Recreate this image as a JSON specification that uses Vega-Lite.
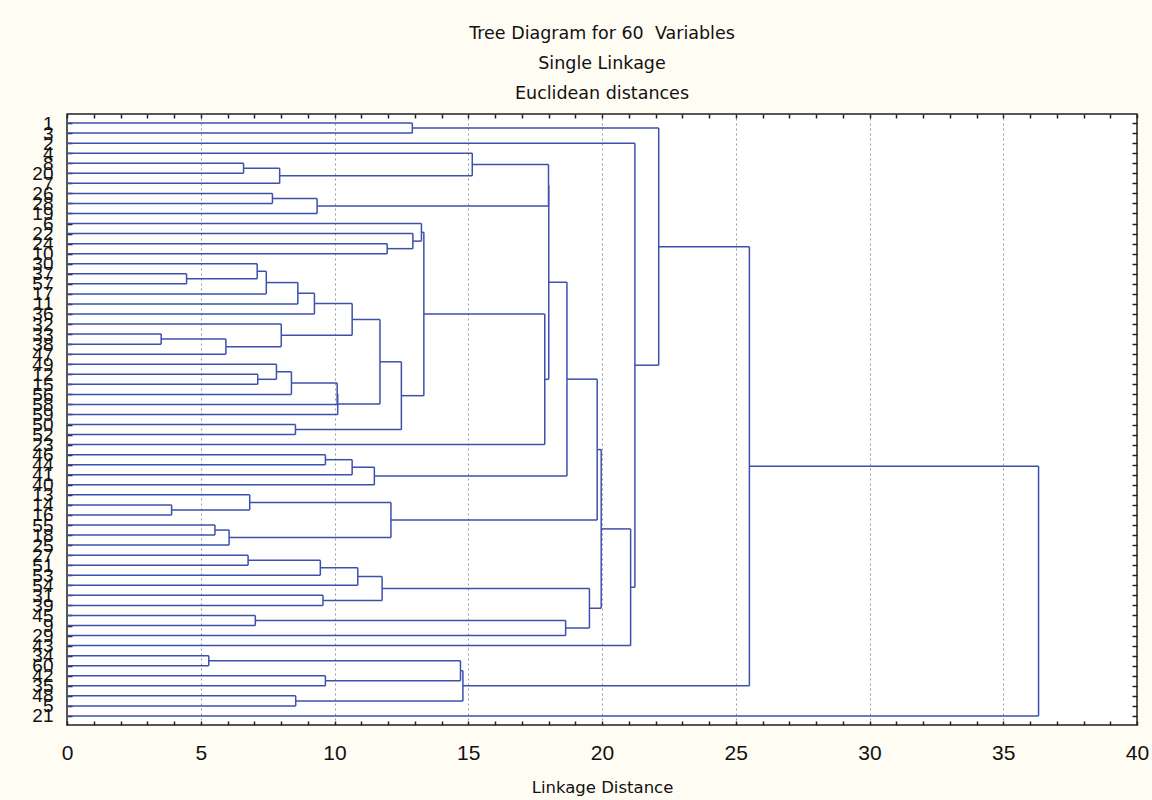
{
  "$schema": "https://vega.github.io/schema/vega-lite/v6.json",
  "description": "Tree diagram for 60 variables, single linkage, Euclidean distances",
  "width": 1070,
  "height": 611,
  "autosize": "none",
  "padding": {"left": 67, "top": 114, "right": 15, "bottom": 75},
  "background": "#fffcf4",
  "title": {
    "text": ["Tree Diagram for 60 \u00a0Variables", "Single Linkage", "Euclidean distances"],
    "font": "DejaVu Sans",
    "fontSize": 17.5,
    "fontWeight": "normal",
    "color": "#111",
    "lineHeight": 30,
    "anchor": "middle",
    "baseline": "bottom",
    "offset": -7
  },
  "datasets": {
    "h": [
      {"y": 1, "x": 0, "x2": 12.91}, {"y": 2, "x": 0, "x2": 12.91}, {"y": 3, "x": 0, "x2": 21.23},
      {"y": 4, "x": 0, "x2": 15.15}, {"y": 5, "x": 0, "x2": 6.6}, {"y": 6, "x": 0, "x2": 6.6},
      {"y": 7, "x": 0, "x2": 7.95}, {"y": 8, "x": 0, "x2": 7.68}, {"y": 9, "x": 0, "x2": 7.68},
      {"y": 10, "x": 0, "x2": 9.35}, {"y": 11, "x": 0, "x2": 13.25}, {"y": 12, "x": 0, "x2": 12.93},
      {"y": 13, "x": 0, "x2": 11.97}, {"y": 14, "x": 0, "x2": 11.97}, {"y": 15, "x": 0, "x2": 7.11},
      {"y": 16, "x": 0, "x2": 4.47}, {"y": 17, "x": 0, "x2": 4.47}, {"y": 18, "x": 0, "x2": 7.45},
      {"y": 19, "x": 0, "x2": 8.63}, {"y": 20, "x": 0, "x2": 9.25}, {"y": 21, "x": 0, "x2": 8.01},
      {"y": 22, "x": 0, "x2": 3.52}, {"y": 23, "x": 0, "x2": 3.52}, {"y": 24, "x": 0, "x2": 5.94},
      {"y": 25, "x": 0, "x2": 7.83}, {"y": 26, "x": 0, "x2": 7.13}, {"y": 27, "x": 0, "x2": 7.13},
      {"y": 28, "x": 0, "x2": 8.39}, {"y": 29, "x": 0, "x2": 10.10}, {"y": 30, "x": 0, "x2": 10.12},
      {"y": 31, "x": 0, "x2": 8.54}, {"y": 32, "x": 0, "x2": 8.54}, {"y": 33, "x": 0, "x2": 17.86},
      {"y": 34, "x": 0, "x2": 9.66}, {"y": 35, "x": 0, "x2": 9.66}, {"y": 36, "x": 0, "x2": 10.66},
      {"y": 37, "x": 0, "x2": 11.49}, {"y": 38, "x": 0, "x2": 6.83}, {"y": 39, "x": 0, "x2": 3.91},
      {"y": 40, "x": 0, "x2": 3.91}, {"y": 41, "x": 0, "x2": 5.53}, {"y": 42, "x": 0, "x2": 5.53},
      {"y": 43, "x": 0, "x2": 6.06}, {"y": 44, "x": 0, "x2": 6.77}, {"y": 45, "x": 0, "x2": 6.77},
      {"y": 46, "x": 0, "x2": 9.47}, {"y": 47, "x": 0, "x2": 10.87}, {"y": 48, "x": 0, "x2": 9.57},
      {"y": 49, "x": 0, "x2": 9.57}, {"y": 50, "x": 0, "x2": 7.04}, {"y": 51, "x": 0, "x2": 7.04},
      {"y": 52, "x": 0, "x2": 18.64}, {"y": 53, "x": 0, "x2": 21.07}, {"y": 54, "x": 0, "x2": 5.30},
      {"y": 55, "x": 0, "x2": 5.30}, {"y": 56, "x": 0, "x2": 9.66}, {"y": 57, "x": 0, "x2": 9.66},
      {"y": 58, "x": 0, "x2": 8.55}, {"y": 59, "x": 0, "x2": 8.55}, {"y": 60, "x": 0, "x2": 36.32},
      {"y": 1.5, "x": 12.91, "x2": 22.12}, {"y": 5.5, "x": 6.6, "x2": 7.95},
      {"y": 6.25, "x": 7.95, "x2": 15.15}, {"y": 5.125, "x": 15.15, "x2": 18.0},
      {"y": 8.5, "x": 7.68, "x2": 9.35}, {"y": 9.25, "x": 9.35, "x2": 18.0},
      {"y": 7.1875, "x": 18.0, "x2": 18.01}, {"y": 13.5, "x": 11.97, "x2": 12.93},
      {"y": 12.75, "x": 12.93, "x2": 13.25}, {"y": 11.875, "x": 13.25, "x2": 13.34},
      {"y": 16.5, "x": 4.47, "x2": 7.11}, {"y": 15.75, "x": 7.11, "x2": 7.45},
      {"y": 16.875, "x": 7.45, "x2": 8.63}, {"y": 17.9375, "x": 8.63, "x2": 9.25},
      {"y": 18.96875, "x": 9.25, "x2": 10.66}, {"y": 22.5, "x": 3.52, "x2": 5.94},
      {"y": 23.25, "x": 5.94, "x2": 8.01}, {"y": 22.125, "x": 8.01, "x2": 10.66},
      {"y": 20.546875, "x": 10.66, "x2": 11.70}, {"y": 26.5, "x": 7.13, "x2": 7.83},
      {"y": 25.75, "x": 7.83, "x2": 8.39}, {"y": 26.875, "x": 8.39, "x2": 10.10},
      {"y": 27.9375, "x": 10.10, "x2": 10.12}, {"y": 28.96875, "x": 10.12, "x2": 11.70},
      {"y": 24.7578, "x": 11.70, "x2": 12.50}, {"y": 31.5, "x": 8.54, "x2": 12.50},
      {"y": 28.1289, "x": 12.50, "x2": 13.34}, {"y": 20.002, "x": 13.34, "x2": 17.86},
      {"y": 26.501, "x": 17.86, "x2": 18.01}, {"y": 16.8442, "x": 18.01, "x2": 18.69},
      {"y": 34.5, "x": 9.66, "x2": 10.66}, {"y": 35.25, "x": 10.66, "x2": 11.49},
      {"y": 36.125, "x": 11.49, "x2": 18.69}, {"y": 26.4846, "x": 18.69, "x2": 19.82},
      {"y": 39.5, "x": 3.91, "x2": 6.83}, {"y": 38.75, "x": 6.83, "x2": 12.11},
      {"y": 41.5, "x": 5.53, "x2": 6.06}, {"y": 42.25, "x": 6.06, "x2": 12.11},
      {"y": 40.5, "x": 12.11, "x2": 19.82}, {"y": 33.4923, "x": 19.82, "x2": 19.97},
      {"y": 44.5, "x": 6.77, "x2": 9.47}, {"y": 45.25, "x": 9.47, "x2": 10.87},
      {"y": 46.125, "x": 10.87, "x2": 11.78}, {"y": 48.5, "x": 9.57, "x2": 11.78},
      {"y": 47.3125, "x": 11.78, "x2": 19.53}, {"y": 50.5, "x": 7.04, "x2": 18.64},
      {"y": 51.25, "x": 18.64, "x2": 19.53}, {"y": 49.2813, "x": 19.53, "x2": 19.97},
      {"y": 41.3868, "x": 19.97, "x2": 21.07}, {"y": 47.1934, "x": 21.07, "x2": 21.23},
      {"y": 25.0967, "x": 21.23, "x2": 22.12}, {"y": 13.2984, "x": 22.12, "x2": 25.51},
      {"y": 54.5, "x": 5.30, "x2": 14.71}, {"y": 56.5, "x": 9.66, "x2": 14.71},
      {"y": 55.5, "x": 14.71, "x2": 14.80}, {"y": 58.5, "x": 8.55, "x2": 14.80},
      {"y": 57, "x": 14.80, "x2": 25.51}, {"y": 35.1492, "x": 25.51, "x2": 36.32}
    ],
    "v": [
      {"x": 12.91, "y": 1, "y2": 2}, {"x": 6.6, "y": 5, "y2": 6}, {"x": 7.95, "y": 5.5, "y2": 7},
      {"x": 15.15, "y": 4, "y2": 6.25}, {"x": 7.68, "y": 8, "y2": 9}, {"x": 9.35, "y": 8.5, "y2": 10},
      {"x": 18.0, "y": 5.125, "y2": 9.25}, {"x": 11.97, "y": 13, "y2": 14}, {"x": 12.93, "y": 12, "y2": 13.5},
      {"x": 13.25, "y": 11, "y2": 12.75}, {"x": 4.47, "y": 16, "y2": 17}, {"x": 7.11, "y": 15, "y2": 16.5},
      {"x": 7.45, "y": 15.75, "y2": 18}, {"x": 8.63, "y": 16.875, "y2": 19}, {"x": 9.25, "y": 17.9375, "y2": 20},
      {"x": 3.52, "y": 22, "y2": 23}, {"x": 5.94, "y": 22.5, "y2": 24}, {"x": 8.01, "y": 21, "y2": 23.25},
      {"x": 10.66, "y": 18.96875, "y2": 22.125}, {"x": 7.13, "y": 26, "y2": 27}, {"x": 7.83, "y": 25, "y2": 26.5},
      {"x": 8.39, "y": 25.75, "y2": 28}, {"x": 10.10, "y": 26.875, "y2": 29}, {"x": 10.12, "y": 27.9375, "y2": 30},
      {"x": 11.70, "y": 20.546875, "y2": 28.96875}, {"x": 8.54, "y": 31, "y2": 32},
      {"x": 12.50, "y": 24.7578, "y2": 31.5}, {"x": 13.34, "y": 11.875, "y2": 28.1289},
      {"x": 17.86, "y": 20.002, "y2": 33}, {"x": 18.01, "y": 7.1875, "y2": 26.501},
      {"x": 9.66, "y": 34, "y2": 35}, {"x": 10.66, "y": 34.5, "y2": 36}, {"x": 11.49, "y": 35.25, "y2": 37},
      {"x": 18.69, "y": 16.8442, "y2": 36.125}, {"x": 3.91, "y": 39, "y2": 40}, {"x": 6.83, "y": 38, "y2": 39.5},
      {"x": 5.53, "y": 41, "y2": 42}, {"x": 6.06, "y": 41.5, "y2": 43}, {"x": 12.11, "y": 38.75, "y2": 42.25},
      {"x": 19.82, "y": 26.4846, "y2": 40.5}, {"x": 6.77, "y": 44, "y2": 45}, {"x": 9.47, "y": 44.5, "y2": 46},
      {"x": 10.87, "y": 45.25, "y2": 47}, {"x": 9.57, "y": 48, "y2": 49}, {"x": 11.78, "y": 46.125, "y2": 48.5},
      {"x": 7.04, "y": 50, "y2": 51}, {"x": 18.64, "y": 50.5, "y2": 52}, {"x": 19.53, "y": 47.3125, "y2": 51.25},
      {"x": 19.97, "y": 33.4923, "y2": 49.2813}, {"x": 21.07, "y": 41.3868, "y2": 53},
      {"x": 21.23, "y": 3, "y2": 47.1934}, {"x": 22.12, "y": 1.5, "y2": 25.0967},
      {"x": 5.30, "y": 54, "y2": 55}, {"x": 9.66, "y": 56, "y2": 57}, {"x": 14.71, "y": 54.5, "y2": 56.5},
      {"x": 8.55, "y": 58, "y2": 59}, {"x": 14.80, "y": 55.5, "y2": 58.5}, {"x": 25.51, "y": 13.2984, "y2": 57},
      {"x": 36.32, "y": 35.1492, "y2": 60}
    ]
  },
  "layer": [
    {
      "data": {"name": "h"},
      "mark": {"type": "rule", "color": "#3d50ad", "strokeWidth": 1.5},
      "encoding": {
        "x": {
          "field": "x",
          "type": "quantitative",
          "scale": {"domain": [0, 40], "nice": false, "zero": false},
          "axis": {
            "orient": "bottom",
            "values": [0,1,2,3,4,5,6,7,8,9,10,11,12,13,14,15,16,17,18,19,20,21,22,23,24,25,26,27,28,29,30,31,32,33,34,35,36,37,38,39,40],
            "labelExpr": "datum.value % 5 === 0 ? datum.label : ''",
            "labelFont": "Liberation Sans",
            "labelFontSize": 21,
            "labelColor": "#111",
            "labelPadding": 21,
            "labelFlush": false,
            "labelOverlap": false,
            "domain": false,
            "tickSize": -4,
            "tickColor": "#222",
            "tickWidth": 1.5,
            "grid": true,
            "gridColor": "#999",
            "gridDash": [2, 3],
            "gridWidth": 1,
            "gridOpacity": {"condition": {"test": "datum.value % 5 === 0 && datum.value > 0 && datum.value < 40", "value": 1}, "value": 0},
            "title": "Linkage Distance",
            "titleFont": "DejaVu Sans",
            "titleFontSize": 16.5,
            "titleFontWeight": "normal",
            "titleColor": "#111",
            "titlePadding": 16
          }
        },
        "x2": {"field": "x2"},
        "y": {
          "field": "y",
          "type": "quantitative",
          "scale": {"domain": [0.1, 60.9], "reverse": true, "nice": false, "zero": false},
          "axis": {
            "orient": "left",
            "values": [1,2,3,4,5,6,7,8,9,10,11,12,13,14,15,16,17,18,19,20,21,22,23,24,25,26,27,28,29,30,31,32,33,34,35,36,37,38,39,40,41,42,43,44,45,46,47,48,49,50,51,52,53,54,55,56,57,58,59,60],
            "labelExpr": "['1','3','2','4','8','20','7','26','28','19','6','22','24','10','30','37','57','17','11','36','32','33','38','47','49','12','15','56','58','59','50','52','23','46','44','41','40','13','14','16','55','18','25','27','51','53','54','31','39','45','9','29','43','34','60','42','35','48','5','21'][datum.value - 1]",
            "labelFont": "Liberation Sans",
            "labelFontSize": 19,
            "labelColor": "#111",
            "labelPadding": 19,
            "labelOverlap": false,
            "labelBound": false,
            "labelFlush": false,
            "domain": false,
            "tickSize": -5,
            "tickColor": "#222",
            "tickWidth": 1.5,
            "grid": false,
            "title": null
          }
        }
      }
    },
    {
      "data": {"name": "v"},
      "mark": {"type": "rule", "color": "#3d50ad", "strokeWidth": 1.5},
      "encoding": {
        "x": {
          "field": "x",
          "type": "quantitative",
          "scale": {"domain": [0, 40], "nice": false, "zero": false},
          "axis": {
            "orient": "top",
            "values": [0,1,2,3,4,5,6,7,8,9,10,11,12,13,14,15,16,17,18,19,20,21,22,23,24,25,26,27,28,29,30,31,32,33,34,35,36,37,38,39,40],
            "labels": false,
            "domain": false,
            "tickSize": -4,
            "tickColor": "#222",
            "tickWidth": 1.5,
            "grid": false,
            "title": null
          }
        },
        "y": {
          "field": "y",
          "type": "quantitative",
          "scale": {"domain": [0.1, 60.9], "reverse": true, "nice": false, "zero": false},
          "axis": {
            "orient": "right",
            "values": [1,2,3,4,5,6,7,8,9,10,11,12,13,14,15,16,17,18,19,20,21,22,23,24,25,26,27,28,29,30,31,32,33,34,35,36,37,38,39,40,41,42,43,44,45,46,47,48,49,50,51,52,53,54,55,56,57,58,59,60],
            "labels": false,
            "domain": false,
            "tickSize": -5,
            "tickColor": "#222",
            "tickWidth": 1.5,
            "grid": false,
            "title": null
          }
        },
        "y2": {"field": "y2"}
      }
    }
  ],
  "resolve": {"axis": {"x": "independent", "y": "independent"}},
  "config": {
    "view": {"fill": "white", "stroke": "#222", "strokeWidth": 1.5}
  }
}
